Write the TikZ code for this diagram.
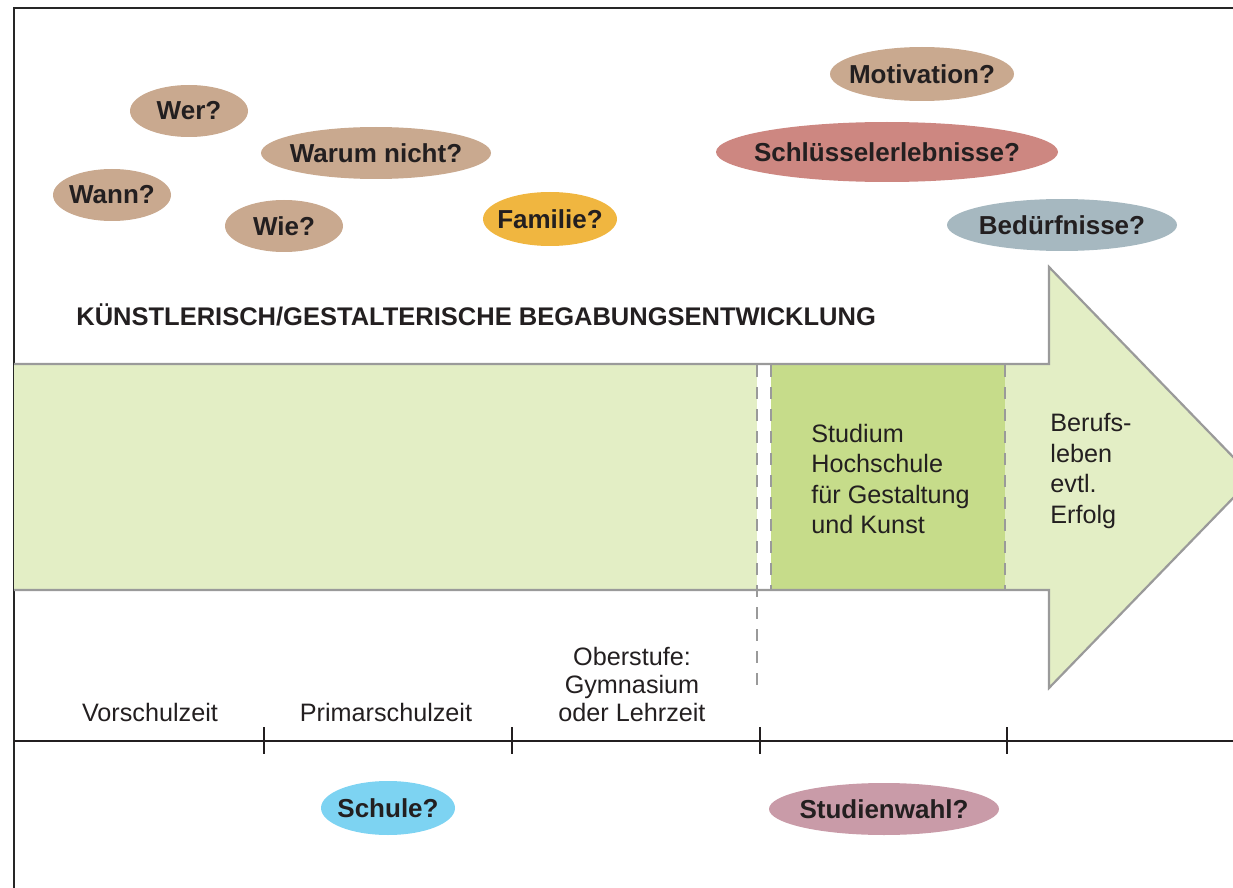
\documentclass[tikz,border=0pt]{standalone}
\usepackage{fontspec}
\setmainfont{Liberation Sans}
\usetikzlibrary{shapes.geometric}

\definecolor{schrift}{HTML}{231F20}
\definecolor{beige}{HTML}{C9A98F}
\definecolor{altrosa}{HTML}{CD8781}
\definecolor{graublau}{HTML}{A6B8C0}
\definecolor{orangegelb}{HTML}{F0B640}
\definecolor{hellblau}{HTML}{7DD3F2}
\definecolor{mauve}{HTML}{C99BA8}
\definecolor{hellgruen}{HTML}{E3EEC5}
\definecolor{dunkelgruen}{HTML}{C6DC8A}
\definecolor{rahmengrau}{HTML}{9A9A9A}

\newcommand{\frtext}[1]{\makebox[0pt]{#1}}

\begin{document}
\begin{tikzpicture}[x=0.5pt, y=-0.5pt,
    every node/.style={inner sep=0pt, text=schrift, font=\fontsize{12.6}{15.2}\selectfont},
    frage/.style={ellipse, font=\fontsize{13}{15}\selectfont\bfseries},
    rahmen/.style={draw=rahmengrau, line width=1.1pt},
    trenner/.style={draw=rahmengrau, line width=0.8pt, dash pattern=on 6pt off 5pt}]
      \useasboundingbox (0,0) rectangle (1233,888);
      \draw[line width=1.2pt, black!85] (14,888) -- (14,8) -- (1233,8);
      % Pfeil
      \fill[hellgruen] (14,364) -- (1049,364) -- (1049,267) -- (1253,477.5) -- (1049,688) -- (1049,590) -- (14,590) -- cycle;
      \fill[white] (757,364) rectangle (771,590);
      \fill[dunkelgruen] (771,364) rectangle (1005,590);
      \draw[rahmen] (14,364) -- (1049,364) -- (1049,267) -- (1253,477.5) -- (1049,688) -- (1049,590) -- (14,590);
      \draw[trenner] (757,365) -- (757,693);
      \draw[trenner] (771,365) -- (771,589);
      \draw[trenner] (1005,365) -- (1005,589);
      \node (titel) at (76,315) [anchor=west, font=\fontsize{12.75}{15}\selectfont\bfseries] {KÜNSTLERISCH/GESTALTERISCHE BEGABUNGSENTWICKLUNG};
      \node (studium) at (811,479) [anchor=west, align=left] {Studium\\Hochschule\\für Gestaltung\\und Kunst};
      \node (beruf) at (1050,471) [anchor=west, align=left] {Berufs-\\leben\\evtl.\\Erfolg};
      % Fragen
      \node (1) at (189,111) [frage, fill=beige, minimum width=59pt, minimum height=26pt] {\frtext{Wer?}};
      \node (2) at (112,195) [frage, fill=beige, minimum width=59pt, minimum height=26pt] {\frtext{Wann?}};
      \node (3) at (376,153) [frage, fill=beige, minimum width=115pt, minimum height=26pt] {\frtext{Warum nicht?}};
      \node (4) at (284,226) [frage, fill=beige, minimum width=59pt, minimum height=26pt] {\frtext{Wie?}};
      \node (5) at (550,219) [frage, fill=orangegelb, minimum width=67pt, minimum height=27pt] {\frtext{Familie?}};
      \node (6) at (922,74) [frage, fill=beige, minimum width=92pt, minimum height=27pt] {\frtext{Motivation?}};
      \node (7) at (887,152) [frage, fill=altrosa, minimum width=171pt, minimum height=30pt] {\frtext{Schlüsselerlebnisse?}};
      \node (8) at (1062,225) [frage, fill=graublau, minimum width=115pt, minimum height=26pt] {\frtext{Bedürfnisse?}};
      \node (9) at (388,808) [frage, fill=hellblau, minimum width=67pt, minimum height=27pt] {\frtext{Schule?}};
      \node (10) at (884,809) [frage, fill=mauve, minimum width=115pt, minimum height=26pt] {\frtext{Studienwahl?}};
      % Zeitachse
      \coordinate (start) at (14,741);
      \coordinate (ende) at (1233,741);
      \draw[line width=1pt, schrift] (start) -- (ende);
      \foreach \x in {264, 512, 760, 1007}
        \draw[line width=1pt, schrift] (\x,727) -- (\x,754);
      \node (vor) at (150,712) {Vorschulzeit};
      \node (prim) at (386,712) {Primarschulzeit};
      \node (ober) at (632,684) [align=center, font=\fontsize{12.6}{14}\selectfont] {Oberstufe:\\Gymnasium\\oder Lehrzeit};
    \end{tikzpicture}
\end{document}
